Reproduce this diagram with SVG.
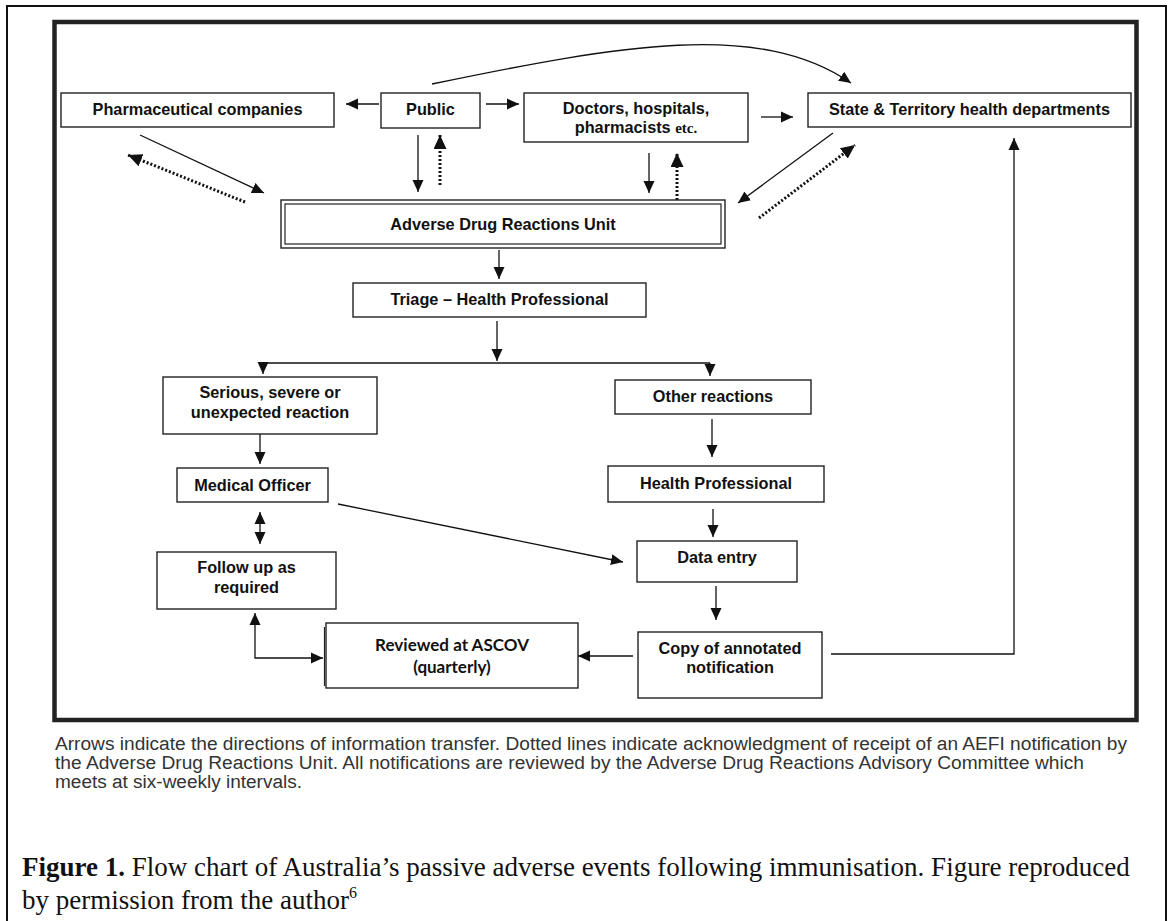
<svg xmlns="http://www.w3.org/2000/svg" width="1171" height="921" viewBox="0 0 1171 921">
<style>
.box{fill:#fff;stroke:#222;stroke-width:1.4}
.t{font-family:"Liberation Sans",Arial,sans-serif;font-weight:bold;font-size:16.3px;fill:#111;text-anchor:middle}
.tc{font-family:Lato,"Liberation Sans",sans-serif;font-weight:bold;font-size:17px;fill:#111;text-anchor:middle}
.ln{fill:none;stroke:#111;stroke-width:1.3}
.dot{fill:none;stroke:#111;stroke-width:3;stroke-dasharray:2 2}
.cap{font-family:"Liberation Sans",Arial,sans-serif;font-size:18px;fill:#333}
.fig{font-family:"Liberation Serif","Times New Roman",serif;font-size:27px;fill:#111}
</style>
<defs>
<marker id="ah" viewBox="0 0 12 12" refX="12" refY="6" markerWidth="12" markerHeight="12" markerUnits="userSpaceOnUse" orient="auto-start-reverse"><path d="M0,0.5 L12,6 L0,11.5 z" fill="#111"/></marker>
<marker id="ahd" viewBox="0 0 14 13" refX="14" refY="6.5" markerWidth="14" markerHeight="13" markerUnits="userSpaceOnUse" orient="auto"><path d="M0,0 L14,6.5 L0,13 z" fill="#111"/></marker>
</defs>
<rect width="1171" height="921" fill="#fff"/>
<path d="M7,921 V6 H1166 V921" fill="none" stroke="#111" stroke-width="2"/>
<rect x="54.5" y="22" width="1082" height="698" fill="none" stroke="#222" stroke-width="4.5"/>

<g id="connectors">
<path class="ln" d="M432,84 C620,45 760,20 851,83" marker-end="url(#ah)"/>
<line class="ln" x1="379" y1="104" x2="346" y2="104" marker-end="url(#ah)"/>
<line class="ln" x1="486" y1="104" x2="519" y2="104" marker-end="url(#ah)"/>
<line class="ln" x1="761" y1="117" x2="793" y2="117" marker-end="url(#ah)"/>
<line class="ln" x1="418" y1="135" x2="418" y2="192" marker-end="url(#ah)"/>
<line class="dot" x1="440" y1="185" x2="440" y2="135" marker-end="url(#ahd)"/>
<line class="ln" x1="649" y1="153" x2="649" y2="193" marker-end="url(#ah)"/>
<line class="dot" x1="677" y1="200" x2="677" y2="153" marker-end="url(#ahd)"/>
<line class="ln" x1="140" y1="135" x2="264" y2="193" marker-end="url(#ah)"/>
<line class="dot" x1="245" y1="202" x2="128" y2="155" marker-end="url(#ahd)"/>
<line class="ln" x1="833" y1="133" x2="738" y2="203" marker-end="url(#ah)"/>
<line class="dot" x1="759" y1="218" x2="855" y2="145" marker-end="url(#ahd)"/>
<line class="ln" x1="499" y1="250" x2="499" y2="279" marker-end="url(#ah)"/>
<line class="ln" x1="497" y1="321" x2="497" y2="361" marker-end="url(#ah)"/>
<line class="ln" x1="263" y1="363" x2="710" y2="363"/>
<line class="ln" x1="263" y1="363" x2="263" y2="374" marker-end="url(#ah)"/>
<line class="ln" x1="710" y1="363" x2="710" y2="376" marker-end="url(#ah)"/>
<line class="ln" x1="260" y1="434" x2="260" y2="464" marker-end="url(#ah)"/>
<line class="ln" x1="712" y1="419" x2="712" y2="457" marker-end="url(#ah)"/>
<line class="ln" x1="260" y1="512" x2="260" y2="544" marker-start="url(#ah)" marker-end="url(#ah)"/>
<line class="ln" x1="338" y1="504" x2="623" y2="562" marker-end="url(#ah)"/>
<line class="ln" x1="713" y1="509" x2="713" y2="537" marker-end="url(#ah)"/>
<line class="ln" x1="716" y1="586" x2="716" y2="620" marker-end="url(#ah)"/>
<line class="ln" x1="633" y1="656" x2="578" y2="656" marker-end="url(#ah)"/>
<path class="ln" d="M831,654 H1014 V138" marker-end="url(#ah)"/>
<path class="ln" d="M255,613 V658 H323" marker-start="url(#ah)" marker-end="url(#ah)"/>
</g>

<g id="pharma"><rect class="box" x="61" y="93" width="273" height="34"/><text class="t" x="197.5" y="115">Pharmaceutical companies</text></g>
<g id="public"><rect class="box" x="381" y="93" width="99" height="35"/><text class="t" x="430.5" y="115">Public</text></g>
<g id="doctors"><rect class="box" x="524" y="93" width="224" height="49"/><text class="t" x="636" y="114">Doctors, hospitals,</text><text class="t" x="636" y="133">pharmacists <tspan font-family="'Liberation Serif','Times New Roman',serif" font-size="15">etc.</tspan></text></g>
<g id="state"><rect class="box" x="808" y="93" width="323" height="34"/><text class="t" x="969.5" y="115">State &amp; Territory health departments</text></g>
<g id="adr"><rect class="box" x="281" y="200" width="444" height="48"/><rect x="285" y="204" width="436" height="40" fill="none" stroke="#222" stroke-width="1.2"/><text class="t" x="503" y="230">Adverse Drug Reactions Unit</text></g>
<g id="triage"><rect class="box" x="353" y="283" width="293" height="34"/><text class="t" x="499.5" y="305">Triage – Health Professional</text></g>
<g id="serious"><rect class="box" x="163" y="377" width="214" height="57"/><text class="t" x="270" y="398">Serious, severe or</text><text class="t" x="270" y="418">unexpected reaction</text></g>
<g id="other"><rect class="box" x="615" y="380" width="196" height="34"/><text class="t" x="713" y="402">Other reactions</text></g>
<g id="medical"><rect class="box" x="177" y="468" width="151" height="34"/><text class="t" x="252.5" y="491">Medical Officer</text></g>
<g id="healthpro"><rect class="box" x="608" y="466" width="216" height="36"/><text class="t" x="716" y="489">Health Professional</text></g>
<g id="followup"><rect class="box" x="157" y="552" width="179" height="57"/><text class="t" x="246.5" y="573">Follow up as</text><text class="t" x="246.5" y="593">required</text></g>
<g id="dataentry"><rect class="box" x="637" y="541" width="160" height="41"/><text class="t" x="717" y="563">Data entry</text></g>
<g id="copy"><rect class="box" x="638" y="632" width="184" height="66"/><text class="t" x="730" y="654">Copy of annotated</text><text class="t" x="730" y="673">notification</text></g>
<g id="reviewed"><rect class="box" x="326" y="623" width="252" height="65"/><line x1="324.5" y1="627" x2="324.5" y2="686" stroke="#222" stroke-width="1.2"/><text class="tc" x="452" y="651" textLength="154" lengthAdjust="spacing">Reviewed at ASCOV</text><text class="tc" x="452" y="673">(quarterly)</text></g>

<g id="caption">
<text class="cap" x="55" y="750" textLength="1072" lengthAdjust="spacingAndGlyphs">Arrows indicate the directions of information transfer. Dotted lines indicate acknowledgment of receipt of an AEFI notification by</text>
<text class="cap" x="55" y="769" textLength="1029" lengthAdjust="spacingAndGlyphs">the Adverse Drug Reactions Unit. All notifications are reviewed by the Adverse Drug Reactions Advisory Committee which</text>
<text class="cap" x="55" y="788" textLength="247" lengthAdjust="spacingAndGlyphs">meets at six-weekly intervals.</text>
<text class="fig" x="22" y="876"><tspan font-weight="bold">Figure 1.</tspan> Flow chart of Australia’s passive adverse events following immunisation. Figure reproduced</text>
<text class="fig" x="22" y="909">by permission from the author<tspan font-size="16" dy="-11">6</tspan></text>
</g>
</svg>
